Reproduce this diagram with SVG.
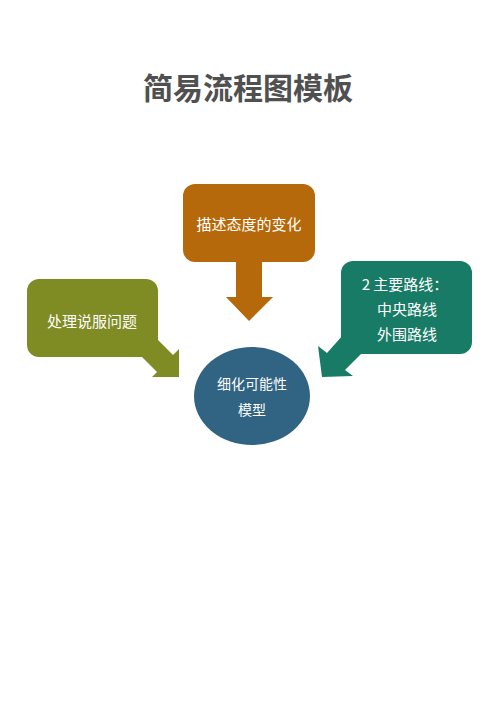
<svg xmlns="http://www.w3.org/2000/svg" width="500" height="707" viewBox="0 0 500 707">
<style>
.t{font-family:"Noto Sans CJK SC","Liberation Sans",sans-serif;fill:#ffffff;font-size:15px;text-anchor:middle}
.title{font-family:"Noto Sans CJK SC","Liberation Sans",sans-serif;fill:#505050;font-size:30px;font-weight:bold;text-anchor:middle}
</style>
<rect width="500" height="707" fill="#ffffff"/>
<text class="title" x="248" y="99">简易流程图模板</text>
<g id="connectors">
<polygon id="arrow-top" fill="#B5690A" points="236,260 262,260 262,297 273,297 249,321 226,297 236,297"/>
<polygon id="arrow-left" fill="#7F8B23" points="156,338 173,355 179,349 179,377 152,377 157,372 141,356"/>
<polygon id="arrow-right" fill="#187B65" points="343,335 327,353 318,346 322,377 353,376 345,370 363,352"/>
</g>
<g id="node-top">
<rect x="183" y="184" width="132" height="78" rx="12" fill="#B5690A"/>
<text class="t" x="249" y="230">描述态度的变化</text>
</g>
<g id="node-left">
<rect x="27" y="279" width="131" height="78" rx="12" fill="#7F8B23"/>
<text class="t" x="92" y="327">处理说服问题</text>
</g>
<g id="node-right">
<rect x="341" y="261" width="131" height="93" rx="12" fill="#187B65"/>
<text class="t" x="405" y="290">2 主要路线：</text>
<text class="t" x="407" y="315">中央路线</text>
<text class="t" x="407" y="340">外围路线</text>
</g>
<g id="node-center">
<ellipse cx="252" cy="396" rx="58" ry="49" fill="#306482"/>
<text class="t" x="252" y="389" style="font-size:14px">细化可能性</text>
<text class="t" x="252" y="415" style="font-size:14px">模型</text>
</g>
</svg>
